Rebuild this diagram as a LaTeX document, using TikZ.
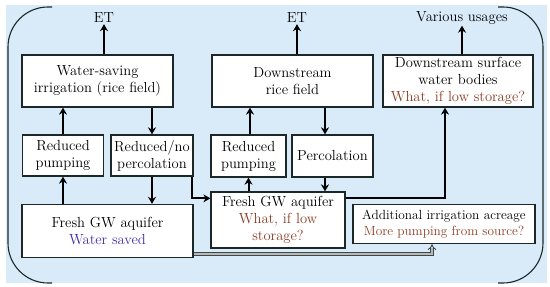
\documentclass[tikz,border=0pt]{standalone}
\usetikzlibrary{arrows.meta}
\definecolor{panelblue}{RGB}{217,235,249}
\definecolor{boxline}{RGB}{28,40,40}
\definecolor{askbrown}{RGB}{140,62,36}
\definecolor{savedblue}{RGB}{62,48,172}
\tikzset{
  panel/.style={fill=panelblue, draw=none},
  bracket/.style={draw=boxline, line width=1.1pt, rounded corners=40pt},
  box/.style={draw=boxline, fill=white, line width=1.3pt, align=center, inner sep=0pt, font=\fontsize{14.6}{17}\selectfont},
  smallbox/.style={box, font=\fontsize{13.3}{16.5}\selectfont},
  outlabel/.style={font=\fontsize{14.6}{17}\selectfont, inner sep=1pt},
  flow/.style={draw=black, line width=2pt, -{Stealth[length=7pt,width=8pt]}},
  spill/.style={draw=boxline!85, double=gray!55, double distance=2pt, line width=0.9pt, -{Implies}},
}

\begin{document}
\begin{tikzpicture}[x=1pt,y=-1pt]
\useasboundingbox (0,0) rectangle (550,287);
\fill[panel] (6,5) rectangle (547,283);
\draw[bracket] (52,7) -- (8,7) -- (8,283) -- (52,283);
\draw[bracket] (498,7) -- (543,7) -- (543,283) -- (498,283);
% top row
\node[outlabel] (et1) at (104,18) {ET};
\node[outlabel] (et2) at (297,18) {ET};
\node[outlabel] (usage) at (462,18) {Various usages};
\node[box, minimum width=151pt, minimum height=52pt] (irr) at (97.5,81) {Water-saving\\irrigation (rice field)};
\node[box, minimum width=161pt, minimum height=52pt] (dsrice) at (292.5,81) {Downstream\\rice field};
\node[box, minimum width=150pt, minimum height=52pt] (surf) at (458,81) {Downstream surface\\water bodies\\\textcolor{askbrown}{What, if low storage?}};
% middle row
\node[box, minimum width=81pt, minimum height=41pt] (pumpL) at (63,155.5) {Reduced\\pumping};
\node[box, minimum width=82pt, minimum height=41pt] (percL) at (152,155.5) {Reduced/no\\percolation};
\node[box, minimum width=75pt, minimum height=42pt] (pumpM) at (248.5,156) {Reduced\\pumping};
\node[box, minimum width=81pt, minimum height=42pt] (percM) at (332.5,156) {Percolation};
% aquifers
\node[box, minimum width=171pt, minimum height=53pt] (aqL) at (107.5,231) {Fresh GW aquifer\\\textcolor{savedblue}{Water saved}};
\node[box, minimum width=134pt, minimum height=56pt] (aqM) at (278,220) {Fresh GW aquifer\\\textcolor{askbrown}{What, if low}\\\textcolor{askbrown}{storage?}};
\node[smallbox, minimum width=182pt, minimum height=39pt] (addl) at (444,224) {Additional irrigation acreage\\\textcolor{askbrown}{More pumping from source?}};
% flows
\draw[flow] (et1.south |- irr.north) -- (et1.south);
\draw[flow] (et2.south |- dsrice.north) -- (et2.south);
\draw[flow] (usage.south |- surf.north) -- (usage.south);
\draw[flow] (pumpL.north) -- (pumpL.north |- irr.south);
\draw[flow] (percL.north |- irr.south) -- (percL.north);
\draw[flow] (pumpL.south |- aqL.north) -- (pumpL.south);
\draw[flow] (percL.south) -- (percL.south |- aqL.north);
\draw[flow] ([xshift=1.5pt]pumpM.north) -- ([xshift=1.5pt]pumpM.north |- dsrice.south);
\draw[flow] ([xshift=-7.5pt]percM.north |- dsrice.south) -- ([xshift=-7.5pt]percM.north);
\draw[flow] (pumpM.south |- aqM.north) -- (pumpM.south);
\draw[flow] ([xshift=-7.5pt]percM.south) -- ([xshift=-7.5pt]percM.south |- aqM.north);
\draw[flow] ([xshift=-2pt]percL.south east) |- ([yshift=-7pt]aqM.north west);
\draw[flow] ([yshift=-7pt]aqM.north east) -| ([xshift=-13pt]surf.south);
\draw[spill] ([yshift=4pt]aqL.south east) -| ([xshift=-12pt]addl.south);
\end{tikzpicture}
\end{document}
